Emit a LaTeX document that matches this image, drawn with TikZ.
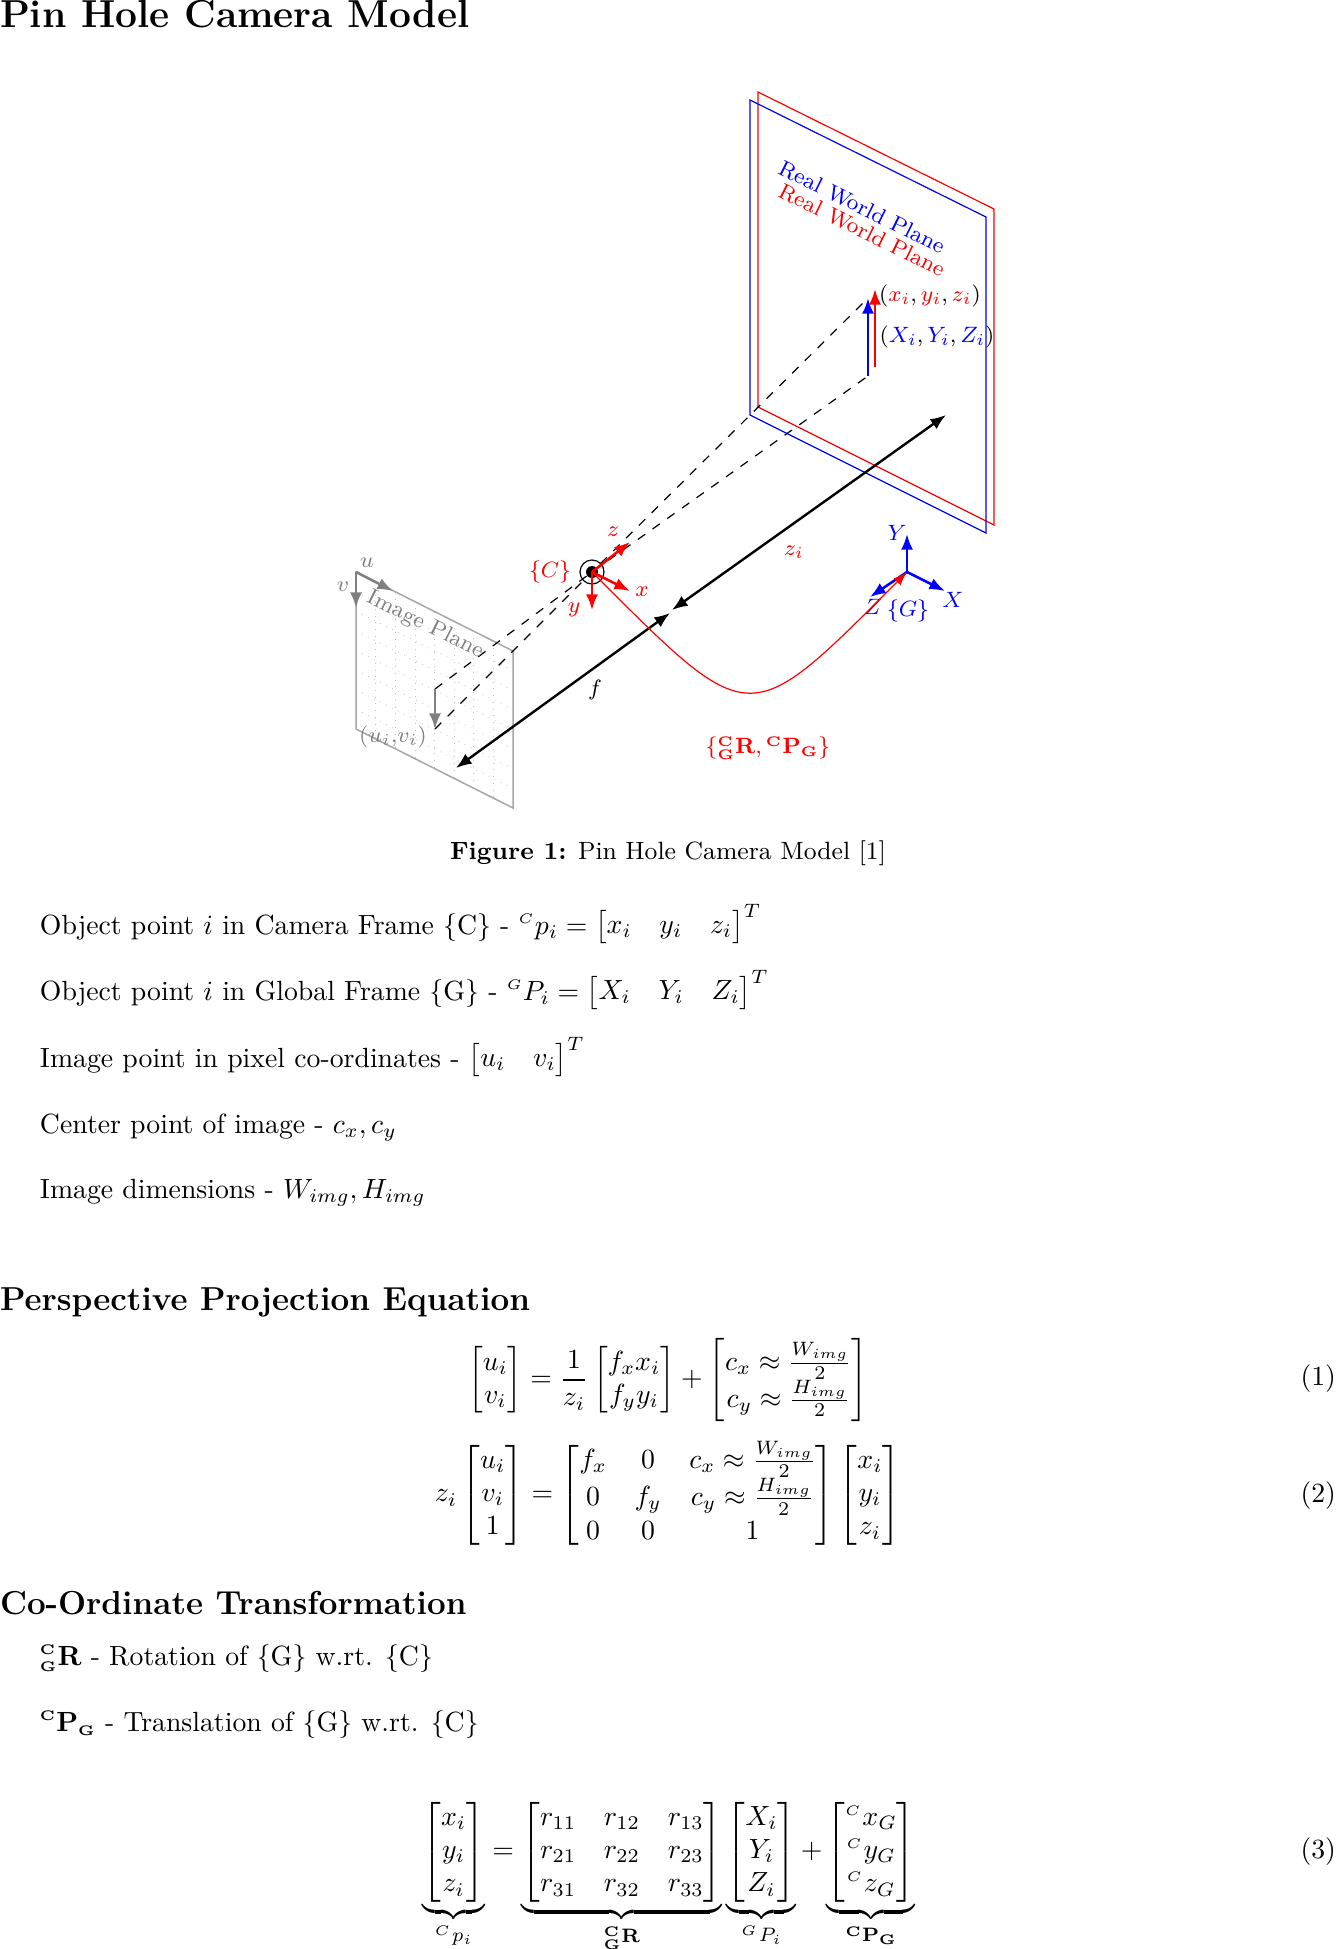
\documentclass[tikz,border=0pt]{standalone}
\usepackage{amsmath}
\usetikzlibrary{arrows.meta,calc}
\newcommand{\preC}{{}^{\scriptscriptstyle C}}
\newcommand{\preG}{{}^{\scriptscriptstyle G}}
\newcommand{\bfCGR}{{}^{\scriptscriptstyle\mathbf{C}}_{\scriptscriptstyle\mathbf{G}}\mathbf{R}}
\newcommand{\bfCPG}{{}^{\scriptscriptstyle\mathbf{C}}\mathbf{P}_{\scriptscriptstyle\mathbf{G}}}
\tikzset{
  lbl/.style={inner sep=0pt,outer sep=0pt,font=\footnotesize,scale=.925,transform shape},
  txt/.style={anchor=base west,inner sep=0pt,outer sep=0pt,scale=.925,transform shape},
  hdone/.style={anchor=base west,inner sep=0pt,outer sep=0pt,font=\fontsize{13}{16}\selectfont\bfseries},
  hd/.style={anchor=base west,inner sep=0pt,outer sep=0pt,font=\fontsize{11.07}{14}\selectfont\bfseries},
  eqn/.style={inner sep=0pt,outer sep=0pt,scale=.925,transform shape},
  eqno/.style={anchor=east,inner sep=0pt,outer sep=0pt,scale=.925,transform shape},
  head/.tip={Latex[length=5.2pt,width=4pt]},
  axis/.style={-head,line width=.85pt},
  dbl/.style={head-head,line width=.8pt,black},
  dashline/.style={dashed,line width=.4pt,black},
  igrid/.style={dotted,gray!50,line width=.25pt},
}
\begin{document}
\begin{tikzpicture}[x=0.33333pt,y=-0.33333pt]
\useasboundingbox (0,0) rectangle (1336,1949);
% image plane
\coordinate (il1) at (356,572);\coordinate (il2) at (513,651);\coordinate (il3) at (513,808);\coordinate (il4) at (356,729);
\foreach \t in {1,...,7}{
  \draw[igrid] ($(il1)!\t/8!(il2)$) -- ($(il4)!\t/8!(il3)$);
  \draw[igrid] ($(il1)!\t/8!(il4)$) -- ($(il2)!\t/8!(il3)$);
}
\draw[gray!70!white,line width=.5pt] (il1)--(il2)--(il3)--(il4)--cycle;
% planes
\coordinate (b1) at (750,100);\coordinate (b2) at (986,217);\coordinate (b3) at (986,533);\coordinate (b4) at (750,415);
\coordinate (r1) at (758,92);\coordinate (r2) at (994,209);\coordinate (r3) at (994,525);\coordinate (r4) at (758,407);
\draw[red,line width=.4pt] (r1)--(r2)--(r3)--(r4)--cycle;
\draw[blue,line width=.4pt] (b1)--(b2)--(b3)--(b4)--cycle;
\node[lbl,blue,rotate=-26.4] (rwb) at (862,207) {Real World Plane};
\node[lbl,red,rotate=-26.4] (rwr) at (862,230) {Real World Plane};
% pinhole
\coordinate (cam) at (592,572);
\node[circle,draw,minimum size=8pt,inner sep=0pt,line width=.4pt] (camring) at (cam) {};
\node[circle,fill=black,minimum size=4pt,inner sep=0pt] (camdot) at (cam) {};
% object/image arrows
\coordinate (bt) at (868,298);\coordinate (bb) at (868,376);
\coordinate (rt) at (875,289);\coordinate (rb) at (875,367);
\coordinate (it) at (435,689);\coordinate (ib) at (435,729);
\draw[dashline] (ib) -- (cam) -- (863,303);
\draw[dashline] (it) -- (cam) -- (bb);
\draw[axis,blue] (bb) -- (bt);
\draw[axis,red] (rb) -- (rt);
\draw[axis,gray] (it) -- (ib);
% uv
\draw[axis,gray] (il1) -- (393,591);
\draw[axis,gray] (il1) -- (356,608);
\node[lbl,gray] (ulab) at (367,563) {$u$};
\node[lbl,gray] (vlab) at (343,587) {$v$};
\node[lbl,gray,rotate=-26.6] (ipl) at (425,625) {Image Plane};
\node[lbl,gray] (uvl) at (393,737) {$(u_i,\!v_i)$};
% camera axes
\draw[axis,red] (cam) -- (630,542);
\draw[axis,red] (cam) -- (630,591);
\draw[axis,red] (cam) -- (592,610);
\node[lbl,red] (zl) at (613,532) {$z$};
\node[lbl,red] (xl) at (642,592) {$x$};
\node[lbl,red] (yl) at (574,610) {$y$};
\node[lbl,red] (cl) at (550,572) {$\{C\}$};
% f, zi
\coordinate (fa) at (670,613);\coordinate (fb) at (456,768);
\coordinate (za) at (672,610);\coordinate (zb) at (946,415);
\draw[dbl] (fa) -- (fb);
\draw[dbl] (za) -- (zb);
\node[lbl] (fl) at (595,690) {$f$};
\node[lbl,red] (zil) at (794,552) {$z_i$};
% global axes
\coordinate (g) at (907,572);
\draw[axis,blue] (g) -- (907,534);
\draw[axis,blue] (g) -- (945,591);
\draw[axis,blue] (g) -- (870,597);
\node[lbl,blue] (Yl) at (897,533) {$Y$};
\node[lbl,blue] (Xl) at (953,600) {$X$};
\node[lbl,blue] (Zl) at (873,607) {$Z$};
\node[lbl,blue] (Gl) at (908,611) {$\{G\}$};
% transform curve
\draw[red,line width=.4pt,-{Latex[length=4.6pt,width=3.2pt]}] (cam) .. controls (752,732) and (747,732) .. (g);
\node[lbl,red] (tl) at (768,748) {$\{\bfCGR,\bfCPG\}$};
% point labels
\node[lbl] (pc) at (930,296) {$(\textcolor{red}{x_i},\textcolor{red}{y_i},\textcolor{red}{z_i})$};
\node[lbl] (pg) at (937,337) {$(\textcolor{blue}{X_i},\textcolor{blue}{Y_i},\textcolor{blue}{Z_i})$};
% text
\node[hdone] (h1) at (0,28) {Pin Hole Camera Model};
\node[anchor=base,inner sep=0pt,font=\small,scale=.925,transform shape] (cap) at (668,859) {\textbf{Figure 1:} Pin Hole Camera Model [1]};
\node[txt] (l1) at (40,934) {Object point $i$ in Camera Frame \{C\} - $\preC p_i = \begin{bmatrix}x_i & y_i & z_i\end{bmatrix}^T$};
\node[txt] (l2) at (40,1000) {Object point $i$ in Global Frame \{G\} - $\preG P_i = \begin{bmatrix}X_i & Y_i & Z_i\end{bmatrix}^T$};
\node[txt] (l3) at (40,1067) {Image point in pixel co-ordinates - $\begin{bmatrix}u_i & v_i\end{bmatrix}^T$};
\node[txt] (l4) at (40,1133) {Center point of image - $c_x,c_y$};
\node[txt] (l5) at (40,1198) {Image dimensions - $W_{img},H_{img}$};
\node[hd] (h2) at (0,1310) {Perspective Projection Equation};
\node[eqn] (e1) at (668,1380) {$\displaystyle \begin{bmatrix}u_i\\v_i\end{bmatrix} = \frac{1}{z_i}\begin{bmatrix}f_x x_i\\f_y y_i\end{bmatrix} + \begin{bmatrix}c_x\approx\frac{W_{img}}{2}\\ c_y\approx\frac{H_{img}}{2}\end{bmatrix}$};
\node[eqno] (n1) at (1336,1379) {(1)};
\node[eqn] (e2) at (668,1495) {$\displaystyle z_i\begin{bmatrix}u_i\\v_i\\1\end{bmatrix} = \begin{bmatrix}f_x & 0 & c_x\approx\frac{W_{img}}{2}\\ 0 & f_y & c_y\approx\frac{H_{img}}{2}\\ 0 & 0 & 1\end{bmatrix}\begin{bmatrix}x_i\\y_i\\z_i\end{bmatrix}$};
\node[eqno] (n2) at (1336,1496) {(2)};
\node[hd] (h3) at (0,1614) {Co-Ordinate Transformation};
\node[txt] (l6) at (40,1665) {$\bfCGR$ - Rotation of \{G\} w.rt. \{C\}};
\node[txt] (l7) at (40,1731) {$\bfCPG$ - Translation of \{G\} w.rt. \{C\}};
\node[eqn] (e3) at (669,1877) {$\displaystyle \underbrace{\begin{bmatrix}x_i\\y_i\\z_i\end{bmatrix}}_{\preC\mkern1mu p_i} = \underbrace{\begin{bmatrix}r_{11}&r_{12}&r_{13}\\r_{21}&r_{22}&r_{23}\\r_{31}&r_{32}&r_{33}\end{bmatrix}}_{\bfCGR}\underbrace{\begin{bmatrix}X_i\\Y_i\\Z_i\end{bmatrix}}_{\preG\mkern1mu P_i} + \underbrace{\begin{bmatrix}\preC\mkern.5mu x_G\\\preC\mkern.5mu y_G\\\preC\mkern.5mu z_G\end{bmatrix}}_{\bfCPG}$};
\node[eqno] (n3) at (1336,1852) {(3)};
\end{tikzpicture}
\end{document}
